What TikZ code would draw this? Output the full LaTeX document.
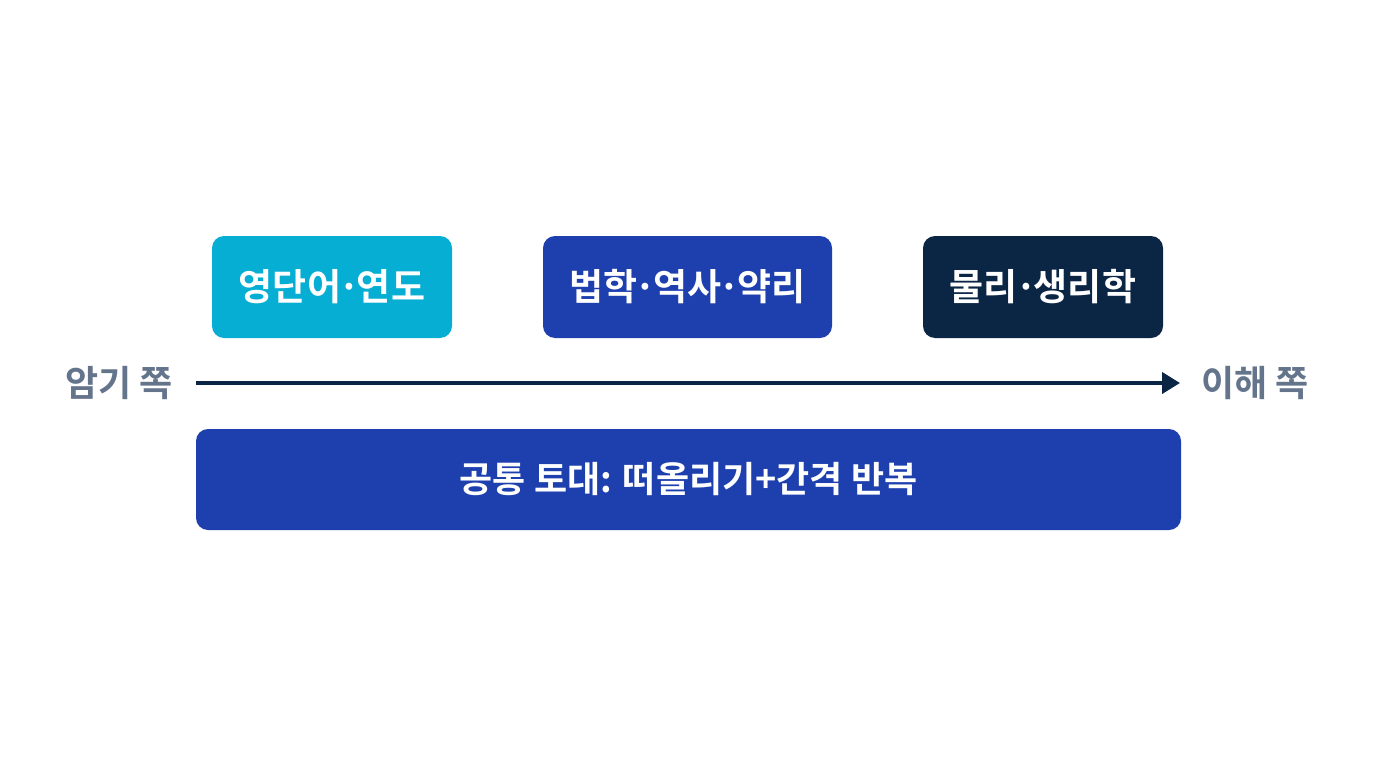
\documentclass[tikz,border=0pt]{standalone}
\usepackage{fontspec}
\setmainfont{Noto Sans CJK KR}[BoldFont={* Bold}]
\newfontfamily\kr{Noto Sans CJK KR Bold}
\usetikzlibrary{arrows.meta}
\definecolor{cyanbox}{HTML}{06AED4}
\definecolor{bluebox}{HTML}{1E40AF}
\definecolor{navybox}{HTML}{0B2545}
\definecolor{sidegray}{HTML}{64748B}
\newcommand{\mydot}{\kern-3pt·\kern-3pt}
\tikzset{
  catbox/.style={rounded corners=12pt, inner sep=0pt, text=white, font=\kr\fontsize{37}{42}\selectfont},
  sidelabel/.style={text=sidegray, font=\kr\fontsize{36}{42}\selectfont, inner sep=0pt},
  axis/.style={draw=navybox, line width=4pt, -{Triangle[length=18pt,width=21pt]}}
}
\begin{document}
\begin{tikzpicture}[x=1pt,y=-1pt]
\useasboundingbox[fill=white] (0,0) rectangle (1376,768);
\node[catbox, fill=cyanbox, minimum width=240pt, minimum height=102pt] (b1) at (332,287) {영단어\mydot 연도};
\node[catbox, fill=bluebox, minimum width=289pt, minimum height=102pt] (b2) at (687.5,287) {법학\mydot 역사\mydot 약리};
\node[catbox, fill=navybox, minimum width=240pt, minimum height=102pt] (b3) at (1043,287) {물리\mydot 생리학};
\coordinate (as) at (196,383);
\coordinate (ae) at (1180,383);
\draw[axis] (as) -- (ae);
\node[sidelabel] (l) at (119,383) {암기 쪽};
\node[sidelabel] (r) at (1255,383) {이해 쪽};
\node[catbox, fill=bluebox, minimum width=985pt, minimum height=101pt, font=\kr\fontsize{36}{42}\selectfont] (base) at (688.5,479.5) {공통 토대: 떠올리기+간격 반복};
\end{tikzpicture}
\end{document}
